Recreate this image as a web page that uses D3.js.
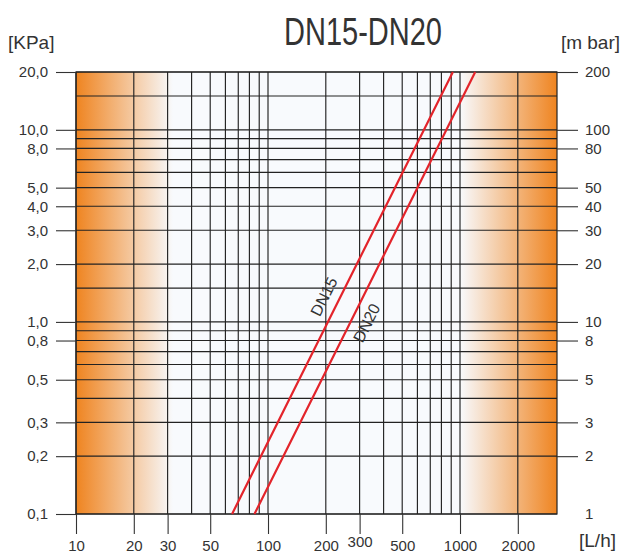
<!DOCTYPE html>
<html>
<head>
  <meta charset="utf-8">
  <script src="https://d3js.org/d3.v7.min.js"></script>
  <style>
    body { margin: 0; background: #fff; }
    text { fill: #333; }
    .narrow { font-family: "Liberation Sans Narrow", "Arial Narrow", "Liberation Sans", sans-serif; }
  </style>
</head>
<body>
<script>
  "use strict";

  // flow rate [L/h] vs pressure drop [kPa], log-log
  var xTicks = [10, 20, 30, 50, 100, 200, 300, 500, 1000, 2000];
  var xGrid = [10, 20, 30, 40, 50, 60, 70, 80, 90, 100, 200, 300, 400, 500, 600, 700, 800, 900, 1000, 2000];
  var yTicks = [20, 10, 8, 5, 4, 3, 2, 1, 0.8, 0.5, 0.3, 0.2, 0.1];
  var yGrid = [0.1, 0.2, 0.3, 0.4, 0.5, 0.6, 0.7, 0.8, 0.9, 1, 1.5, 2, 3, 4, 5, 6, 7, 8, 9, 10, 15, 20];

  // curves: [L/h, kPa]
  var dn15 = [[65, 0.1], [205, 1.0], [918, 20]];
  var dn20 = [[85, 0.1], [269, 1.0], [1200, 20]];
  var series = [
    { name: "DN15", points: dn15, labelAt: 1.25, offset: -15 },
    { name: "DN20", points: dn20, labelAt: 1.07, offset: 15 }
  ];

  var W = 628, H = 556;
  var mLeft = 76, mRight = 557, mTop = 72, mBottom = 514;

  var svg = d3.select("body").append("svg")
      .attr("width", W)
      .attr("height", H);

  var x = d3.scaleLog().domain([10, 3200]).range([mLeft, mRight]);
  var y = d3.scaleLog().domain([0.1, 20]).range([mBottom, mTop]);

  var fmtKpa = function (d) { return d3.format(".1f")(d).replace(".", ","); };

  // gradients for the orange bands
  var defs = svg.append("defs");
  var gl = defs.append("linearGradient").attr("id", "gl");
  gl.append("stop").attr("offset", "0%").attr("stop-color", "#ef8420");
  gl.append("stop").attr("offset", "100%").attr("stop-color", "#f8fafd");
  var gr = defs.append("linearGradient").attr("id", "gr");
  gr.append("stop").attr("offset", "0%").attr("stop-color", "#f8fafd");
  gr.append("stop").attr("offset", "100%").attr("stop-color", "#ef8420");

  svg.append("rect")
      .attr("x", mLeft).attr("y", mTop)
      .attr("width", mRight - mLeft).attr("height", mBottom - mTop)
      .attr("fill", "#f8fafd");
  svg.append("rect")
      .attr("x", mLeft).attr("y", mTop)
      .attr("width", x(32) - mLeft).attr("height", mBottom - mTop)
      .attr("fill", "url(#gl)");
  svg.append("rect")
      .attr("x", x(1000)).attr("y", mTop)
      .attr("width", mRight - x(1000)).attr("height", mBottom - mTop)
      .attr("fill", "url(#gr)");

  // grid
  var grid = svg.append("g").attr("stroke", "#222").attr("stroke-width", 1.15);
  grid.selectAll("line.v").data(xGrid).enter().append("line")
      .attr("x1", function (d) { return x(d); })
      .attr("x2", function (d) { return x(d); })
      .attr("y1", mTop).attr("y2", mBottom);
  grid.selectAll("line.h").data(yGrid).enter().append("line")
      .attr("y1", function (d) { return y(d); })
      .attr("y2", function (d) { return y(d); })
      .attr("x1", mLeft).attr("x2", mRight);

  svg.append("rect")
      .attr("x", mLeft).attr("y", mTop)
      .attr("width", mRight - mLeft).attr("height", mBottom - mTop)
      .attr("fill", "none").attr("stroke", "#222").attr("stroke-width", 1.2);

  // axes
  function styleAxis(g) {
    g.select(".domain").remove();
    g.selectAll(".tick line").attr("stroke", "#333").attr("stroke-width", 1.1);
    g.selectAll(".tick text")
        .attr("class", "narrow")
        .style("font-size", "15px")
        .attr("fill", "#333");
  }

  svg.append("g")
      .attr("transform", "translate(" + mLeft + ",0)")
      .call(d3.axisLeft(y).tickValues(yTicks).tickFormat(fmtKpa).tickSize(20).tickPadding(8))
      .call(styleAxis);

  svg.append("g")
      .attr("transform", "translate(" + mRight + ",0)")
      .call(d3.axisRight(y).tickValues(yTicks).tickFormat(function (d) { return d3.format("d")(d * 10); }).tickSize(21).tickPadding(7))
      .call(styleAxis)
      .call(function (g) {
        g.selectAll(".tick").filter(function (d) { return d === 0.1; }).select("line").remove();
      });

  svg.append("g")
      .attr("transform", "translate(0," + mBottom + ")")
      .call(d3.axisBottom(x).tickValues(xTicks).tickFormat(d3.format("d")).tickSize(20).tickPadding(6))
      .call(styleAxis)
      .call(function (g) {
        g.selectAll(".tick").filter(function (d) { return d === 300; }).select("text").attr("dy", "0.45em");
      });

  // curves
  var line = d3.line()
      .x(function (d) { return x(d[0]); })
      .y(function (d) { return y(d[1]); });

  svg.selectAll("path.curve").data(series).enter().append("path")
      .attr("class", "curve")
      .attr("d", function (s) { return line(s.points); })
      .attr("fill", "none")
      .attr("stroke", "#e3242b")
      .attr("stroke-width", 2.2);

  // labels along the curves
  series.forEach(function (s) {
    var a = s.points[0], b = s.points[s.points.length - 1];
    var ax = x(a[0]), ay = y(a[1]), bx = x(b[0]), by = y(b[1]);
    var py = y(s.labelAt);
    var px = ax + (bx - ax) * (py - ay) / (by - ay);
    var ang = Math.atan2(by - ay, bx - ax) * 180 / Math.PI;
    svg.append("text")
        .attr("transform", "translate(" + px + "," + py + ") rotate(" + ang + ")")
        .attr("y", s.offset)
        .attr("dy", "0.35em")
        .attr("text-anchor", "middle")
        .style("font-family", "Liberation Sans, sans-serif")
        .style("font-size", "16px")
        .text(s.name);
  });

  // titles
  svg.append("text")
      .attr("class", "narrow")
      .attr("x", 363).attr("y", 45)
      .attr("text-anchor", "middle")
      .attr("textLength", 158)
      .attr("lengthAdjust", "spacingAndGlyphs")
      .style("font-size", "38px")
      .text("DN15-DN20");

  svg.append("text")
      .attr("class", "narrow")
      .attr("x", 8).attr("y", 49)
      .style("font-size", "19px")
      .text("[KPa]");

  svg.append("text")
      .attr("class", "narrow")
      .attr("x", 620).attr("y", 49)
      .attr("text-anchor", "end")
      .style("font-size", "19px")
      .text("[m bar]");

  svg.append("text")
      .attr("class", "narrow")
      .attr("x", 616).attr("y", 547)
      .attr("text-anchor", "end")
      .style("font-size", "19px")
      .text("[L/h]");
</script>
</body>
</html>
